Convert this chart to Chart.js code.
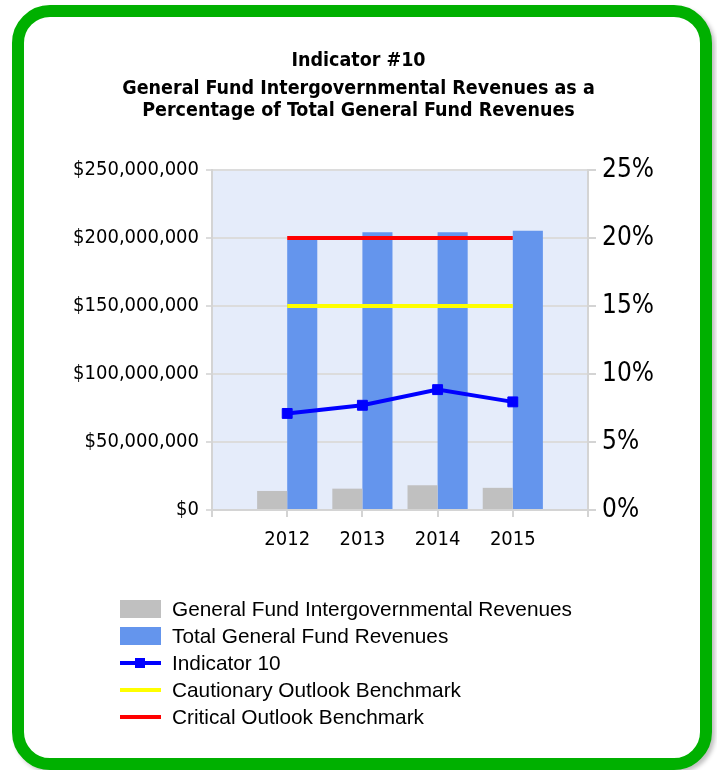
<!DOCTYPE html>
<html>
<head>
<meta charset="utf-8">
<script src="https://cdn.jsdelivr.net/npm/chart.js@4/dist/chart.umd.min.js"></script>
<style>
  body { margin: 0; background: #fff; }
  #frame {
    position: absolute; left: 12px; top: 5px; width: 700px; height: 765px;
    box-sizing: border-box; border: 12px solid #00b000; border-radius: 38px;
    box-shadow: 3px 3px 4px rgba(0,0,0,0.25); background: #fff;
  }
  #chart { position: absolute; left: 0; top: 0; }
  #legend {
    position: absolute; left: 120px; top: 595px;
    font-family: "Liberation Sans", Arial, sans-serif; font-size: 20.8px; color: #000;
  }
  .row { height: 27px; display: flex; align-items: center; }
  .swatch { width: 41px; height: 18px; position: relative; margin-right: 11px; }
  .line { position: absolute; left: 0; right: 0; top: 7px; height: 4px; }
  .mark { position: absolute; left: 15px; top: 4px; width: 10px; height: 10px; }
</style>
</head>
<body>
<div id="frame"></div>
<canvas id="chart" width="717" height="770"></canvas>
<div id="legend"></div>
<script>
'use strict';

var years = ['', '2012', '2013', '2014', '2015', ''];
var intergovRevenues = [null, 14000000, 15700000, 18200000, 16300000, null];
var totalRevenues = [null, 198500000, 204300000, 204300000, 205400000, null];
var indicator10 = [null, 7.1, 7.7, 8.85, 7.95, null];
var cautionary = [null, 15, 15, 15, 15, null];
var critical = [null, 20, 20, 20, 20, null];
var moneyTicks = [0, 50000000, 100000000, 150000000, 200000000, 250000000];
var percentTicks = [0, 5, 10, 15, 20, 25];

var axisFont = '"DejaVu Sans Condensed", "DejaVu Sans", sans-serif';
var axisGray = '#d4d4d4';

var plotBackground = {
  id: 'plotBackground',
  beforeDraw: function (chart) {
    var a = chart.chartArea;
    var ctx = chart.ctx;
    ctx.save();
    ctx.fillStyle = '#e5ecfa';
    ctx.fillRect(a.left, a.top, a.right - a.left, a.bottom - a.top);
    ctx.restore();
  }
};

var ctx = document.getElementById('chart').getContext('2d');
new Chart(ctx, {
  type: 'bar',
  data: {
    labels: years,
    datasets: [
      {
        type: 'line',
        label: 'Critical Outlook Benchmark',
        data: critical,
        yAxisID: 'y1',
        borderColor: '#ff0000',
        borderWidth: 4,
        pointRadius: 0,
        order: 1
      },
      {
        type: 'line',
        label: 'Cautionary Outlook Benchmark',
        data: cautionary,
        yAxisID: 'y1',
        borderColor: '#ffff00',
        borderWidth: 4,
        pointRadius: 0,
        order: 1
      },
      {
        type: 'line',
        label: 'Indicator 10',
        data: indicator10,
        yAxisID: 'y1',
        borderColor: '#0000ff',
        backgroundColor: '#0000ff',
        borderWidth: 4,
        pointStyle: 'rect',
        pointRadius: 7,
        pointBorderWidth: 1,
        order: 0
      },
      {
        label: 'General Fund Intergovernmental Revenues',
        data: intergovRevenues,
        backgroundColor: '#c0c0c0',
        yAxisID: 'y',
        order: 2
      },
      {
        label: 'Total General Fund Revenues',
        data: totalRevenues,
        backgroundColor: '#6495ed',
        yAxisID: 'y',
        order: 2
      }
    ]
  },
  options: {
    responsive: false,
    animation: false,
    layout: { padding: 0 },
    datasets: {
      bar: { categoryPercentage: 0.8, barPercentage: 1.0 }
    },
    plugins: {
      legend: { display: false },
      tooltip: { enabled: false },
      title: {
        display: true,
        text: 'Indicator #10',
        color: '#000',
        font: { family: axisFont, size: 19.5, weight: 'bold', lineHeight: 1.2 },
        padding: { top: 49.3, bottom: 0 }
      },
      subtitle: {
        display: true,
        text: ['General Fund Intergovernmental Revenues as a', 'Percentage of Total General Fund Revenues'],
        color: '#000',
        font: { family: axisFont, size: 19.5, weight: 'bold', lineHeight: 1.128 },
        padding: { top: 5.3, bottom: 48 }
      }
    },
    scales: {
      x: {
        offset: false,
        afterFit: function (s) { s.height = 260; },
        grid: { offset: false, drawOnChartArea: false, drawTicks: true, tickLength: 7, color: axisGray, lineWidth: 2 },
        border: { color: axisGray, width: 2 },
        ticks: { color: '#000', font: { family: axisFont, size: 20 }, padding: 11, maxRotation: 0, autoSkip: false }
      },
      y: {
        position: 'left',
        min: 0,
        max: 250000000,
        afterFit: function (s) { s.width = 212; },
        afterBuildTicks: function (s) { s.ticks = moneyTicks.map(function (v) { return { value: v }; }); },
        grid: { color: '#dcdcdc', lineWidth: 2, tickLength: 6 },
        border: { color: axisGray, width: 2 },
        ticks: {
          color: '#000',
          font: { family: axisFont, size: 20 },
          padding: 7,
          callback: function (v) { return '$' + Number(v).toLocaleString('en-US'); }
        }
      },
      y1: {
        position: 'right',
        min: 0,
        max: 25,
        afterFit: function (s) { s.width = 129; },
        afterBuildTicks: function (s) { s.ticks = percentTicks.map(function (v) { return { value: v }; }); },
        grid: { drawOnChartArea: false, color: axisGray, lineWidth: 2, tickLength: 8 },
        border: { color: axisGray, width: 2 },
        ticks: {
          color: '#000',
          font: { family: axisFont, size: 26 },
          padding: 6,
          callback: function (v) { return v + '%'; }
        }
      }
    }
  },
  plugins: [plotBackground]
});

// legend built as html rows
var legendItems = [
  { label: 'General Fund Intergovernmental Revenues', kind: 'box', color: '#c0c0c0' },
  { label: 'Total General Fund Revenues', kind: 'box', color: '#6495ed' },
  { label: 'Indicator 10', kind: 'marker', color: '#0000ff' },
  { label: 'Cautionary Outlook Benchmark', kind: 'line', color: '#ffff00' },
  { label: 'Critical Outlook Benchmark', kind: 'line', color: '#ff0000' }
];
var legend = document.getElementById('legend');
legendItems.forEach(function (item) {
  var row = document.createElement('div');
  row.className = 'row';
  var sw = document.createElement('div');
  sw.className = 'swatch';
  if (item.kind === 'box') {
    sw.style.background = item.color;
  } else {
    var ln = document.createElement('div');
    ln.className = 'line';
    ln.style.background = item.color;
    sw.appendChild(ln);
    if (item.kind === 'marker') {
      var mk = document.createElement('div');
      mk.className = 'mark';
      mk.style.background = item.color;
      sw.appendChild(mk);
    }
  }
  row.appendChild(sw);
  var txt = document.createElement('span');
  txt.textContent = item.label;
  row.appendChild(txt);
  legend.appendChild(row);
});
</script>
</body>
</html>
